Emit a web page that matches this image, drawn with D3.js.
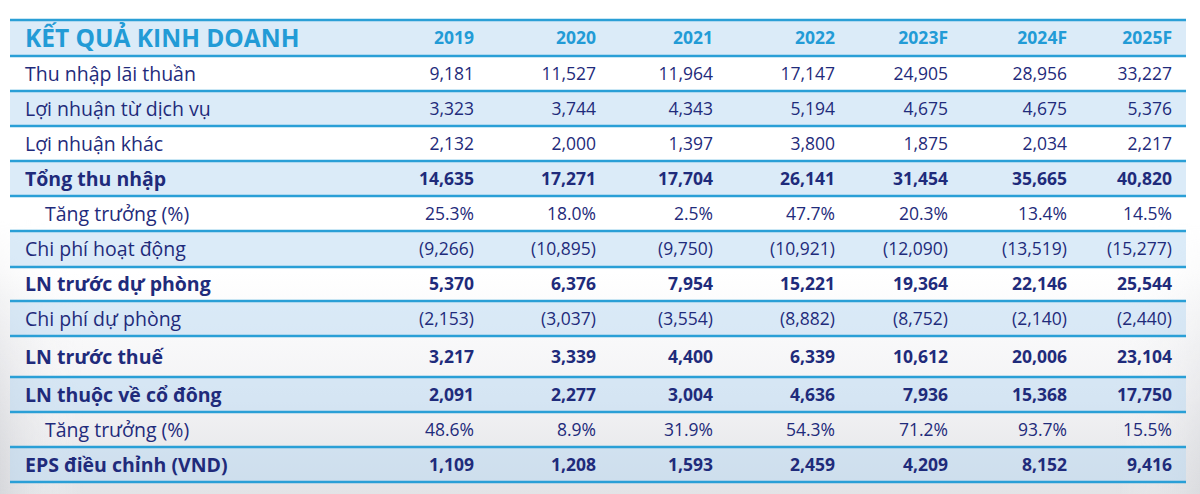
<!DOCTYPE html>
<html><head><meta charset="utf-8">
<script src="https://cdn.jsdelivr.net/npm/d3@7"></script>
<style>html,body{margin:0;padding:0;background:#fff;}svg{display:block;}</style>
</head><body>
<svg id="c" width="1200" height="494"></svg>
<script>
// ---- data ----
const title = "KẾT QUẢ KINH DOANH";
const years = ["2019","2020","2021","2022","2023F","2024F","2025F"];
const rowLabels = ["Thu nhập lãi thuần","Lợi nhuận từ dịch vụ","Lợi nhuận khác","Tổng thu nhập","Tăng trưởng (%)","Chi phí hoạt động","LN trước dự phòng","Chi phí dự phòng","LN trước thuế","LN thuộc về cổ đông","Tăng trưởng (%)","EPS điều chỉnh (VND)"];
const thuNhapLaiThuan = [9181,11527,11964,17147,24905,28956,33227];
const loiNhuanDichVu = [3323,3744,4343,5194,4675,4675,5376];
const loiNhuanKhac = [2132,2000,1397,3800,1875,2034,2217];
const tongThuNhap = [14635,17271,17704,26141,31454,35665,40820];
const tangTruongThuNhap = [25.3,18.0,2.5,47.7,20.3,13.4,14.5];
const chiPhiHoatDong = [-9266,-10895,-9750,-10921,-12090,-13519,-15277];
const lnTruocDuPhong = [5370,6376,7954,15221,19364,22146,25544];
const chiPhiDuPhong = [-2153,-3037,-3554,-8882,-8752,-2140,-2440];
const lnTruocThue = [3217,3339,4400,6339,10612,20006,23104];
const lnCoDong = [2091,2277,3004,4636,7936,15368,17750];
const tangTruongLN = [48.6,8.9,31.9,54.3,71.2,93.7,15.5];
const epsDieuChinh = [1109,1208,1593,2459,4209,8152,9416];
const rowValues = [thuNhapLaiThuan,loiNhuanDichVu,loiNhuanKhac,tongThuNhap,tangTruongThuNhap,chiPhiHoatDong,lnTruocDuPhong,chiPhiDuPhong,lnTruocThue,lnCoDong,tangTruongLN,epsDieuChinh];
const rowBold = [false,false,false,true,false,false,true,false,true,true,false,true];
const rowPct = [false,false,false,false,true,false,false,false,false,false,true,false];
const rowIndent = [false,false,false,false,true,false,false,false,false,false,true,false];

// ---- layout ----
const W = 1200, H = 494;
const left = 10, right = 1186;
const lineYs = [20,56,91,126,161,196,231,267,301,336,377,412,447,482];
const colRight = [474,596,713,835,948,1067,1172];
const xCol = d3.scaleOrdinal().domain(years).range(colRight);
const navy = "#1f2b7b", cyan = "#229bd6", lineCol = "#2a9fd6";
const fmtInt = d3.format(",");
function fmt(v, pct){
  if (pct) return d3.format(".1f")(v) + "%";
  return v < 0 ? "(" + fmtInt(-v) + ")" : fmtInt(v);
}

const svg = d3.select("#c");
const defs = svg.append("defs");
const g1 = defs.append("linearGradient").attr("id","bg").attr("x1",0).attr("y1",0).attr("x2",0).attr("y2",1);
g1.append("stop").attr("offset","0").attr("stop-color","#ffffff");
g1.append("stop").attr("offset","0.55").attr("stop-color","#ffffff");
g1.append("stop").attr("offset","0.8").attr("stop-color","#f3f3f5");
g1.append("stop").attr("offset","1").attr("stop-color","#e2e3e6");
svg.append("rect").attr("width",W).attr("height",H).attr("fill","url(#bg)");
const g2 = defs.append("linearGradient").attr("id","side").attr("x1",0).attr("y1",0).attr("x2",1).attr("y2",0);
g2.append("stop").attr("offset","0").attr("stop-color","#d4d5d9").attr("stop-opacity",0.8);
g2.append("stop").attr("offset","0.07").attr("stop-color","#ffffff").attr("stop-opacity",0);
g2.append("stop").attr("offset","0.93").attr("stop-color","#ffffff").attr("stop-opacity",0);
g2.append("stop").attr("offset","1").attr("stop-color","#d4d5d9").attr("stop-opacity",0.5);
const gm = defs.append("linearGradient").attr("id","fadeV").attr("x1",0).attr("y1",0).attr("x2",0).attr("y2",1);
gm.append("stop").attr("offset","0").attr("stop-color","#000");
gm.append("stop").attr("offset","1").attr("stop-color","#fff");
defs.append("mask").attr("id","m").append("rect").attr("y",220).attr("width",W).attr("height",H-220).attr("fill","url(#fadeV)");
svg.append("rect").attr("y",220).attr("width",W).attr("height",H-220).attr("fill","url(#side)").attr("mask","url(#m)");

// row backgrounds (header + alternate rows)
const bands = d3.range(lineYs.length-1);
svg.append("g").selectAll("rect").data(bands.filter(i => i % 2 === 0)).join("rect")
  .attr("x",left).attr("width",right-left)
  .attr("y",i => lineYs[i]).attr("height",i => lineYs[i+1]-lineYs[i])
  .attr("fill","#b8d7f2").attr("fill-opacity",0.5);

// lines
svg.append("g").selectAll("line").data(lineYs).join("line")
  .attr("x1",left).attr("x2",right).attr("y1",d=>d).attr("y2",d=>d)
  .attr("stroke",lineCol).attr("stroke-width",2.5);

const font = "'Open Sans', sans-serif";
const mid = i => (lineYs[i]+lineYs[i+1])/2;

// header
svg.append("text").attr("x",25).attr("y",mid(0)).attr("dy","0.36em")
  .attr("font-family",font).attr("font-weight",700).attr("font-size",24.5)
  .attr("fill",cyan).text(title);
svg.append("g").selectAll("text").data(years).join("text")
  .attr("x",d=>xCol(d)).attr("y",mid(0)).attr("dy","0.36em").attr("text-anchor","end")
  .attr("font-family",font).attr("font-weight",700).attr("font-size",17.5)
  .attr("fill",cyan).text(d=>d);

// body rows
const rows = svg.append("g").selectAll("g").data(rowLabels).join("g");
rows.append("text")
  .attr("x",(d,i)=>rowIndent[i]?45:25).attr("y",(d,i)=>mid(i+1)).attr("dy","0.36em")
  .attr("font-family",font).attr("font-size",19.5)
  .attr("font-weight",(d,i)=>rowBold[i]?700:400)
  .attr("fill",navy).text(d=>d);
rows.each(function(d,i){
  d3.select(this).selectAll("text.v").data(rowValues[i]).join("text").attr("class","v")
    .attr("x",(v,j)=>xCol(years[j])).attr("y",mid(i+1)).attr("dy","0.36em").attr("text-anchor","end")
    .attr("font-family",font).attr("font-size",17.5)
    .attr("font-weight",rowBold[i]?700:400)
    .attr("fill",navy).text(v=>fmt(v,rowPct[i]));
});
</script>
</body></html>
